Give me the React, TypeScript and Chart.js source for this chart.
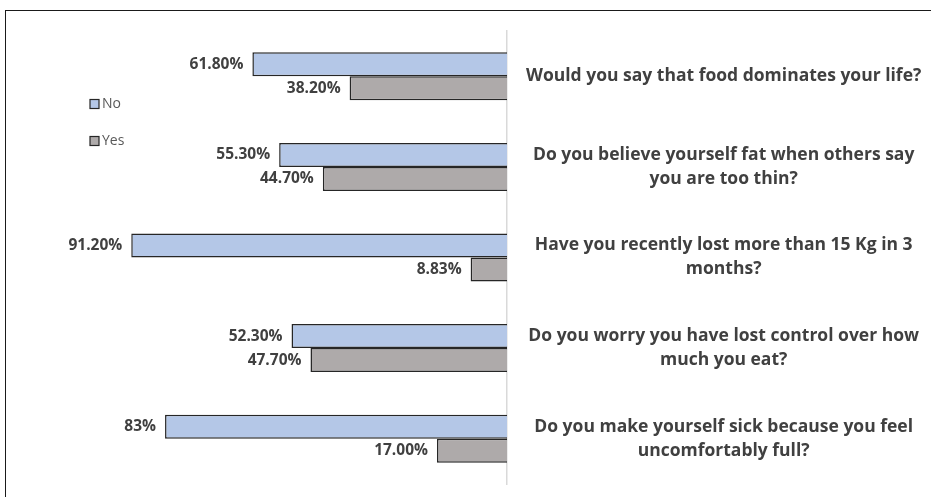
import React, { useEffect, useRef } from "react";
import { Chart, registerables } from "chart.js";

Chart.register(...registerables);

const categories: string[][] = [
  ["Would you say that food dominates your life?"],
  ["Do you believe yourself fat when others say", "you are too thin?"],
  ["Have you recently lost more than 15 Kg in 3", "months?"],
  ["Do you worry you have lost control over how", "much you eat?"],
  ["Do you make yourself sick because you feel", "uncomfortably full?"],
];

const noValues = [61.8, 55.3, 91.2, 52.3, 83];
const yesValues = [38.2, 44.7, 8.83, 47.7, 17.0];

const noLabels = ["61.80%", "55.30%", "91.20%", "52.30%", "83%"];
const yesLabels = ["38.20%", "44.70%", "8.83%", "47.70%", "17.00%"];

const seriesNames = ["No", "Yes"];
const seriesColors = ["#b4c7e7", "#aeaaaa"];

const FONT = "'Open Sans', 'DejaVu Sans', sans-serif";
const TEXT = "#404040";

export default function App() {
  const ref = useRef<HTMLCanvasElement | null>(null);

  useEffect(() => {
    if (!ref.current) return;
    const labelSets = [noLabels, yesLabels];

    const dataLabelPlugin = {
      id: "dataLabels",
      afterDatasetsDraw(chart: any) {
        const ctx = chart.ctx;
        ctx.save();
        ctx.font = `bold 15.5px ${FONT}`;
        ctx.fillStyle = TEXT;
        ctx.textAlign = "right";
        ctx.textBaseline = "middle";
        chart.data.datasets.forEach((ds: any, di: number) => {
          const meta = chart.getDatasetMeta(di);
          meta.data.forEach((bar: any, i: number) => {
            ctx.fillText(labelSets[di][i], bar.x - 9, bar.y);
          });
        });
        ctx.restore();
      },
    };

    const legendPlugin = {
      id: "customLegend",
      afterDraw(chart: any) {
        const ctx = chart.ctx;
        ctx.save();
        ctx.font = `14px ${FONT}`;
        ctx.textBaseline = "middle";
        ctx.textAlign = "left";
        const ys = [104, 141];
        chart.data.datasets.forEach((ds: any, i: number) => {
          const y = ys[i];
          ctx.fillStyle = ds.backgroundColor;
          ctx.fillRect(90, y - 4.5, 9, 9);
          ctx.strokeStyle = "#262626";
          ctx.lineWidth = 1.2;
          ctx.strokeRect(90, y - 4.5, 9, 9);
          ctx.fillStyle = "#595959";
          ctx.fillText(ds.label, 102, y);
        });
        ctx.restore();
      },
    };

    const chart = new Chart(ref.current, {
      type: "bar",
      data: {
        labels: categories,
        datasets: [
          {
            label: seriesNames[0],
            data: noValues,
            backgroundColor: seriesColors[0],
            borderColor: "#262626",
            borderWidth: 1.5,
          },
          {
            label: seriesNames[1],
            data: yesValues,
            backgroundColor: seriesColors[1],
            borderColor: "#262626",
            borderWidth: 1.5,
          },
        ],
      },
      options: {
        indexAxis: "y",
        responsive: false,
        animation: false,
        layout: { padding: { left: 95, top: 31, bottom: 13, right: 0 } },
        datasets: {
          bar: { categoryPercentage: 0.53, barPercentage: 1 },
        },
        plugins: {
          legend: { display: false },
          tooltip: { enabled: false },
        },
        scales: {
          x: {
            display: false,
            reverse: true,
            min: 0,
            max: 100,
          },
          y: {
            position: "right",
            grid: { display: false },
            border: { display: true, color: "#d9d9d9", width: 1.5 },
            ticks: {
              crossAlign: "center",
              padding: 11,
              color: TEXT,
              font: { family: FONT, size: 17.5, weight: "bold", lineHeight: 1.37 },
            },
            afterFit(scale: any) {
              scale.width = 424;
              scale.paddingTop = 0;
              scale.paddingBottom = 0;
            },
          },
        },
      },
      plugins: [dataLabelPlugin, legendPlugin],
    } as any);

    return () => chart.destroy();
  }, []);

  return (
    <div
      style={{
        position: "absolute",
        left: 0,
        top: 0,
        width: 931,
        height: 497,
        overflow: "hidden",
        background: "#ffffff",
      }}
    >
      <div
        style={{
          position: "absolute",
          left: 5,
          top: 10,
          width: 2000,
          height: 2000,
          borderTop: "1.5px solid #1a1a1a",
          borderLeft: "1.5px solid #1a1a1a",
        }}
      />
      <canvas ref={ref} width={931} height={497} style={{ position: "absolute", left: 0, top: 0 }} />
    </div>
  );
}
